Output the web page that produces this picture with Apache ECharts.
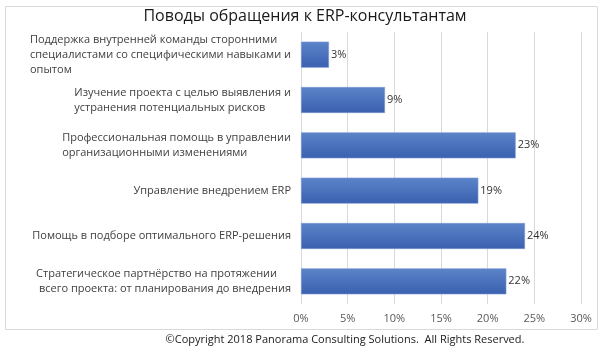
<!DOCTYPE html>
<html>
<head>
<meta charset="utf-8">
<script src="https://cdn.jsdelivr.net/npm/echarts@6/dist/echarts.min.js"></script>
<style>
  html, body { margin: 0; padding: 0; background: #fff; }
  #chart { width: 600px; height: 347px; }
</style>
</head>
<body>
<div id="chart"></div>
<script>
// Reasons for engaging ERP consultants (share of respondents, %)
const categories = [
  ['Поддержка внутренней команды сторонними', 'специалистами со специфическими навыками и', 'опытом'],
  ['Изучение проекта с целью выявления и', 'устранения потенциальных рисков'],
  ['Профессиональная помощь в управлении', 'организационными изменениями'],
  ['Управление внедрением ERP'],
  ['Помощь в подборе оптимального ERP-решения'],
  ['Стратегическое партнёрство на протяжении', ' всего проекта: от планирования до внедрения']
];
const values = [3, 9, 23, 19, 24, 22];
const xTicks = [0, 5, 10, 15, 20, 25, 30];

const titleText = 'Поводы обращения к ERP-консультантам';
const footerText = '©Copyright 2018 Panorama Consulting Solutions.  All Rights Reserved.';

const FONT = '"Open Sans", "Noto Sans", sans-serif';

const chart = echarts.init(document.getElementById('chart'), null, { renderer: 'canvas' });

chart.setOption({
  backgroundColor: '#ffffff',
  animation: false,
  title: [
    {
      text: titleText,
      left: 300,
      top: 3,
      textAlign: 'center',
      textStyle: { fontFamily: FONT, fontSize: 16, fontWeight: 'normal', color: '#1a1a1a' }
    },
    {
      text: footerText,
      left: 340,
      top: 329,
      textAlign: 'center',
      textStyle: { fontFamily: FONT, fontSize: 11, fontWeight: 'normal', color: '#1a1a1a' }
    }
  ],
  graphic: [
    {
      type: 'rect',
      left: 3,
      top: 4,
      shape: { width: 592, height: 323 },
      style: { fill: 'none', stroke: '#d9d9d9', lineWidth: 1 },
      z: -1
    }
  ],
  grid: { left: 301, right: 19, top: 32, bottom: 43, containLabel: false },
  xAxis: {
    type: 'value',
    min: xTicks[0],
    max: xTicks[xTicks.length - 1],
    interval: xTicks[1] - xTicks[0],
    axisLine: { show: false },
    axisTick: { show: false },
    splitLine: { show: true, lineStyle: { color: '#d9d9d9', width: 1 } },
    axisLabel: {
      margin: 9,
      fontFamily: FONT,
      fontSize: 11,
      color: '#595959',
      formatter: v => v + '%'
    }
  },
  yAxis: {
    type: 'category',
    inverse: true,
    data: categories.map(lines => lines.join('\n')),
    axisLine: { show: false },
    axisTick: { show: false },
    axisLabel: {
      margin: 10,
      fontFamily: FONT,
      fontSize: 11,
      color: '#404040',
      lineHeight: 15,
      align: 'right',
      formatter: v => v.split('\n').map(s => '{l|' + s + '}').join('\n'),
      rich: {
        l: { align: 'left', fontFamily: FONT, fontSize: 11, color: '#404040', lineHeight: 15 }
      }
    }
  },
  series: [
    {
      type: 'bar',
      data: values,
      barWidth: 26,
      itemStyle: {
        color: new echarts.graphic.LinearGradient(0, 0, 0, 1, [
          { offset: 0, color: '#5c84c9' },
          { offset: 1, color: '#3a60af' }
        ]),
        borderColor: '#7d9bd3',
        borderWidth: 0.6
      },
      label: {
        show: true,
        position: 'right',
        distance: 2,
        fontFamily: FONT,
        fontSize: 11,
        color: '#333333',
        formatter: p => p.value + '%'
      }
    }
  ]
});
</script>
</body>
</html>
